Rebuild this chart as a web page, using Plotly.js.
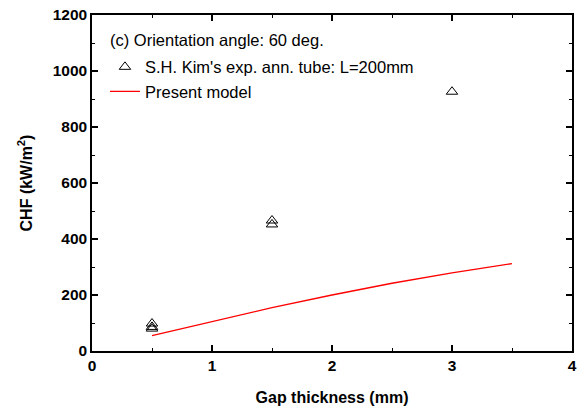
<!DOCTYPE html>
<html><head><meta charset="utf-8">
<script src="https://cdn.plot.ly/plotly-3.0.1.min.js"></script>
<style>html,body{margin:0;padding:0;background:#fff}</style>
</head><body><div id="chart" style="width:585px;height:414px"></div>
<script>
const expGap = [0.5, 0.5, 0.5, 1.5, 1.5, 3.0];
const expCHF = [98, 86, 80, 466, 452, 926];
const modelGap = [0.5, 0.75, 1.0, 1.5, 2.0, 2.5, 3.0, 3.5];
const modelCHF = [55, 80, 105, 155, 200, 242, 279, 312];
const expName = "S.H. Kim's exp. ann. tube: L=200mm";
const modelName = "Present model";
const noteText = "(c) Orientation angle: 60 deg.";

const font = {family: 'Liberation Sans, Arial, sans-serif', color: '#000'};
const traces = [
  {x: expGap, y: expCHF, type: 'scatter', mode: 'markers', name: expName,
   marker: {symbol: 'triangle-up-open', size: 10, color: '#000', line: {width: 1, color: '#000'}}},
  {x: modelGap, y: modelCHF, type: 'scatter', mode: 'lines', name: modelName,
   line: {color: '#ff0000', width: 1.3}}
];
const axisCommon = {
  showline: true, linecolor: '#000', linewidth: 1.5, mirror: 'ticks',
  ticks: 'inside', ticklen: 6, tickwidth: 1.5, tickcolor: '#000',
  showgrid: false, zeroline: false,
  tickfont: Object.assign({size: 15.5, weight: 700}, font),
  minor: {ticks: 'inside', ticklen: 3, tickwidth: 1, tickcolor: '#000'}
};
const layout = {
  width: 585, height: 414,
  margin: {l: 92, r: 13, t: 15, b: 63},
  paper_bgcolor: '#fff', plot_bgcolor: '#fff',
  showlegend: true,
  legend: {x: 0.027, y: 0.897, xanchor: 'left', yanchor: 'top', bgcolor: 'rgba(0,0,0,0)',
           font: Object.assign({size: 16.5}, font), tracegroupgap: 0, itemwidth: 30},
  xaxis: Object.assign({}, axisCommon, {range: [0, 4], dtick: 1, tick0: 0,
    minor: Object.assign({}, axisCommon.minor, {dtick: 0.5}),
    title: {text: '<b>Gap thickness (mm)</b>', font: Object.assign({size: 16, weight: 700}, font), standoff: 18}}),
  yaxis: Object.assign({}, axisCommon, {range: [0, 1200], dtick: 200, tick0: 0,
    minor: Object.assign({}, axisCommon.minor, {dtick: 100}),
    title: {text: '<b>CHF (kW/m<sup>2</sup>)</b>', font: Object.assign({size: 16, weight: 700}, font), standoff: 16}}),
  annotations: [{text: noteText, xref: 'paper', yref: 'paper', x: 0.033, y: 0.926,
    xanchor: 'left', yanchor: 'middle', showarrow: false, font: Object.assign({size: 16.5}, font)}]
};
Plotly.newPlot('chart', traces, layout, {displayModeBar: false});
</script></body></html>
